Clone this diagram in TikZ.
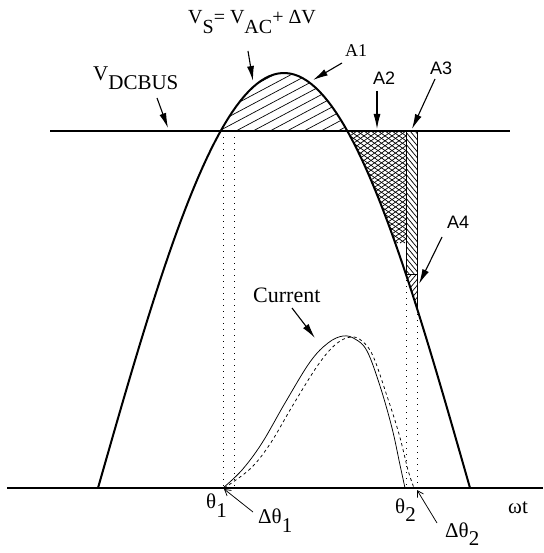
\documentclass[tikz,border=0pt]{standalone}
\usepackage{fontspec}
\setmainfont{Liberation Serif}
\newfontfamily\labelsans{Liberation Sans}
\usetikzlibrary{arrows.meta}

\begin{document}
\begin{tikzpicture}[
  x=1pt,y=-1pt,
  font=\fontsize{21}{24}\selectfont,
  wave/.style={line width=2pt},
  rail/.style={line width=1.1pt},
  cur/.style={line width=0.75pt},
  guide/.style={line width=1pt,dash pattern=on 1pt off 5pt},
  hatch/.style={line width=0.7pt},
  edge/.style={line width=0.9pt},
  ptr/.style={-{Latex[length=15pt,width=7pt]},line width=1.1pt},
  thinptr/.style={-{Straight Barb[length=6pt,width=7pt]},line width=0.75pt},
  lab/.style={inner sep=0pt,anchor=base west},
  arealab/.style={lab,font=\labelsans\fontsize{18}{20}\selectfont}
]
\useasboundingbox (0,0) rectangle (543,553);

% Layout (pixel grid, y downwards):
% axis at 488, dc bus at 131, V_S half sine from 98 to 470

%%%%%%%%%%%%%%%%%%%%%%%%%%%%%%%%%%%%%%%%%%%%%%%%%%%%
% Hatched areas
%%%%%%%%%%%%%%%%%%%%%%%%%%%%%%%%%%%%%%%%%%%%%%%%%%%%
% A1: above the bus
\begin{scope}
\clip plot[domain=59.35:120.65,samples=40] ({98+2.06667*\x},{488-415*sin(\x)}) -- cycle;
\foreach \s in {100,117,...,360} \draw[hatch] (\s,131) -- ++(160,-85);
\end{scope}

% A2: cross hatch
\begin{scope}
\clip plot[domain=120.65:149.03,samples=30] ({98+2.06667*\x},{488-415*sin(\x)}) -- (406,131) -- cycle;
\foreach \s in {140,147,...,620} {
  \draw[hatch] (\s,131) -- ++(160,112);
  \draw[hatch] (\s,131) -- ++(-160,112);
}
\end{scope}

% A3
\begin{scope}
\clip (406,131) rectangle (417,274);
\foreach \s in {95,101,...,280} \draw[hatch] (395,\s) -- ++(30,36);
\end{scope}

% A4
\begin{scope}
\clip (406,274) -- (417,274) -- (417,308)
  -- plot[domain=154.35:149.03,samples=10] ({98+2.06667*\x},{488-415*sin(\x)}) -- cycle;
\foreach \s in {270,276,...,330} \draw[hatch] (395,\s) -- ++(30,-36);
\end{scope}

%%%%%%%%%%%%%%%%%%%%%%%%%%%%%%%%%%%%%%%%%%%%%%%%%%%%
% Axis, bus and waveforms
%%%%%%%%%%%%%%%%%%%%%%%%%%%%%%%%%%%%%%%%%%%%%%%%%%%%
\coordinate (axL) at (7,488);
\coordinate (axR) at (543,488);
\coordinate (busL) at (50,131);
\coordinate (busR) at (510,131);
\draw[rail] (axL) -- (axR);
\draw[rail] (busL) -- (busR);
\draw[wave] (348,131) -- (417,131);

\draw[wave] plot[domain=0:180,samples=90] ({98+2.06667*\x},{488-415*sin(\x)});

% A2/A3/A4 borders
\coordinate (c2top) at (406,131);
\coordinate (c2bot) at (406,274);
\coordinate (c3top) at (417,131);
\coordinate (c3bot) at (417,308);
\draw[edge] (c2top) -- (c2bot);
\draw[edge] (c3top) -- (c3bot);
\draw[edge] (c2bot) -- (417,274);

% dotted guides
\coordinate (g1) at (223,131);
\coordinate (g2) at (234,131);
\draw[guide] (g1) -- (223,488);
\draw[guide] (g2) -- (234,488);
\draw[guide] (c2bot) -- (406,488);
\draw[guide] (c3bot) -- (417,488);

% current
\draw[cur] plot[smooth,tension=0.6] coordinates {(223,488) (242,470) (262,443) (285,403)
  (310,362) (328,343) (343,336) (355,339) (367,351) (380,386) (392,428) (400,465) (405,488)};
\draw[cur,dashed] plot[smooth,tension=0.6] coordinates {(224,488) (250,469) (270,444) (293,405)
  (318,365) (336,344) (351,337) (362,341) (373,356) (387,396) (399,434) (408,470) (414,488)};

%%%%%%%%%%%%%%%%%%%%%%%%%%%%%%%%%%%%%%%%%%%%%%%%%%%%
% Labels
%%%%%%%%%%%%%%%%%%%%%%%%%%%%%%%%%%%%%%%%%%%%%%%%%%%%
\node[lab,font=\fontsize{20}{24}\selectfont] (vslab) at (188,24) {V\raisebox{-10pt}{S}= V\raisebox{-10pt}{AC}+ ΔV};
\node[lab] (dcbus) at (93,81) {V\raisebox{-9pt}{DCBUS}};
\node[lab,font=\fontsize{18}{20}\selectfont] (a1) at (345,57) {A1};
\node[arealab] (a2) at (373,85) {A2};
\node[arealab] (a3) at (430,75) {A3};
\node[arealab] (a4) at (447,228) {A4};
\node[lab,font=\fontsize{22}{24}\selectfont] (current) at (253,302) {Current};
\node[lab] (th1) at (206,508) {θ\raisebox{-9pt}{1}};
\node[lab] (dth1) at (258,523) {Δθ\raisebox{-9pt}{1}};
\node[lab] (th2) at (395,513) {θ\raisebox{-8pt}{2}};
\node[lab] (dth2) at (445,537) {Δθ\raisebox{-8pt}{2}};
\node[lab] (wt) at (508,513) {ωt};

% pointers
\coordinate (vstail) at (248,51);   \coordinate (vstip) at (253,81);
\coordinate (bustail) at (157,98);  \coordinate (bustip) at (168,128);
\coordinate (a1tail) at (342,63);   \coordinate (a1tip) at (313,80);
\coordinate (a2tail) at (377,91);   \coordinate (a2tip) at (377,129);
\coordinate (a3tail) at (435,79);   \coordinate (a3tip) at (412,129);
\coordinate (a4tail) at (442,237);  \coordinate (a4tip) at (419,284);
\coordinate (curtail) at (292,308); \coordinate (curtip) at (315,338);
\coordinate (d1tail) at (253,512);  \coordinate (d1tip) at (224,489);
\coordinate (d2tail) at (437,523);  \coordinate (d2tip) at (417,490);

\draw[ptr] (vstail) -- (vstip);
\draw[ptr] (bustail) -- (bustip);
\draw[ptr] (a1tail) -- (a1tip);
\draw[ptr] (a2tail) -- (a2tip);
\draw[ptr] (a3tail) -- (a3tip);
\draw[ptr] (a4tail) -- (a4tip);
\draw[ptr] (curtail) -- (curtip);
\draw[thinptr] (d1tail) -- (d1tip);
\draw[thinptr] (d2tail) -- (d2tip);

\end{tikzpicture}
\end{document}
